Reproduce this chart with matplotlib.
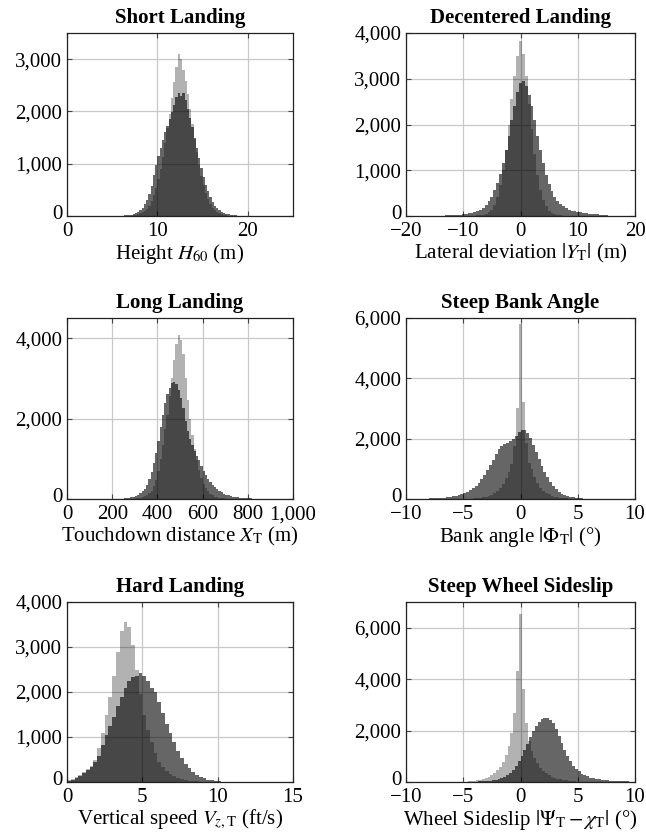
import numpy as np
import matplotlib
matplotlib.use('Agg')
import matplotlib.pyplot as plt
from matplotlib.ticker import FuncFormatter
from matplotlib.transforms import ScaledTranslation

plt.rcParams['font.family'] = ['Liberation Serif', 'DejaVu Serif']
plt.rcParams['mathtext.fontset'] = 'stix'
plt.rcParams['font.size'] = 15

## data (bin counts), light = first set, dark = second set

# Short Landing (m)
h60_light_edges = (7.0, 19.0)
h60_light = [8, 13, 20, 32, 48, 70, 100, 140, 200, 290, 400, 540,
             700, 900, 1130, 1400, 1680, 1950, 2250, 2560, 2850, 3100, 3000, 2800,
             2580, 2330, 2050, 1760, 1480, 1220, 980, 770, 590, 440, 320, 230,
             160, 110, 75, 50, 33, 22, 14, 9, 6, 4, 2, 1]
h60_dark_edges = (6.0, 20.0)
h60_dark = [8, 11, 15, 20, 28, 40, 56, 78, 110, 160, 220, 310, 420, 580, 780, 980,
            1150, 1300, 1450, 1600, 1730, 1860, 1990, 2130, 2280, 2360, 2290, 2350,
            2220, 2050, 1880, 1700, 1500, 1300, 1100, 920, 750, 600, 470, 360,
            270, 200, 150, 110, 80, 58, 42, 30, 22, 16, 12, 9, 6, 5, 3, 2]

# Decentered Landing (m)
yt_edges = (-15.25, 15.25)
yt_light = [0, 0, 0, 0, 0, 0, 0, 0, 0, 1, 1, 2, 3,
            5, 8, 13, 20, 32, 50, 85, 140, 250, 420, 680, 1000, 1450, 2000, 2550,
            3050, 3500, 3820, 3550, 3050, 2450, 1900, 1350, 900, 560, 350, 210, 120,
            70, 40, 22, 12, 7, 4, 2, 1,
            1, 0, 0, 0, 0, 0, 0, 0, 0, 0, 0, 0]
yt_dark = [5, 6, 8, 10, 12, 15, 18, 21, 25, 30, 35, 44, 55, 68, 85, 110, 140, 185,
           240, 320, 420, 560, 720, 920, 1150, 1450, 1750, 2100, 2400, 2700, 2900,
           2950, 2850, 2650, 2400, 2100, 1750, 1450, 1150, 900, 700, 540, 420, 330,
           260, 210, 170, 140, 120, 105, 90, 77, 65, 57, 50, 44, 38, 33, 28, 24, 20]

# Long Landing (m)
xt_edges = (250.0, 850.0)
xt_light = [2, 3, 4, 6, 9, 13, 20, 30, 45, 65, 95, 140, 210, 320, 480,
            700, 1000, 1350, 1750, 2100, 2550, 3000, 3450, 3850, 4080,
            3950, 3600, 3000, 2450, 2000, 1600, 1250, 980, 730, 530,
            380, 270, 190, 130, 90, 62, 42, 29, 20, 14,
            8, 5, 4, 3, 2, 1, 1, 0, 0, 0, 0, 0, 0, 0, 0]
xt_dark = [22, 28, 36, 48, 62, 80, 105, 140, 190, 260, 360, 500, 680, 900, 1150,
           1450, 1780, 2100, 2380, 2600, 2750, 2880, 2900, 2850, 2700, 2500, 2250,
           1950, 1700, 1500, 1350, 1200, 1080, 960, 830, 700, 590, 500, 420, 350,
           290, 240, 200, 165, 135, 110, 90, 75, 62, 50, 42, 35, 29, 24, 20, 16,
           13, 11, 9, 7]

# Steep Bank Angle (deg)
phi_light_edges = (-4.125, 4.125)
phi_light = [20, 28, 40, 56, 78, 105, 145, 200, 270, 360, 500, 680, 900, 1150, 1750,
             3000, 5800, 3200, 1850, 1200, 1000, 720, 520, 380, 280, 205, 150, 108,
             78, 56, 40, 28, 20]
phi_dark_edges = (-8.0, 6.0)
phi_dark = [18, 22, 27, 33, 40, 48, 58, 70, 85, 105, 130, 160, 195, 240, 295, 360,
            440, 540, 660, 800, 950, 1120, 1300, 1480, 1650, 1760, 1820, 1870,
            1930, 2000, 2100, 2220, 2300, 2280, 2200, 2020, 1800, 1560, 1320, 1100,
            900, 720, 560, 430, 320, 240, 175, 130, 95, 70, 52, 38, 28, 20, 15, 11]

# Hard Landing (ft/s)
vz_edges = (0.0, 11.0)
vz_light = [40, 70, 110, 160, 220, 290, 360, 480, 750, 1100, 1500, 1900, 2350, 2900,
            3350, 3550, 3450, 3050, 2500, 1950, 1500, 1150, 880, 650, 450, 330, 240,
            175, 125, 90, 65, 45, 32, 22, 15, 10, 7, 5, 3, 2, 1, 1, 0, 0]
vz_dark = [30, 55, 90, 135, 190, 260, 340, 440, 570, 820, 1050, 1250, 1450, 1680,
           1900, 2100, 2250, 2330, 2350, 2420, 2350, 2250, 2080, 2000, 1780, 1540,
           1300, 1080, 880, 700, 540, 410, 310, 230, 165, 115, 80, 55, 34, 22, 14,
           9, 5, 3]

# Steep Wheel Sideslip (deg)
ws_light_edges = (-5.125, 5.125)
ws_light = [10, 15, 22, 32, 45, 62, 85, 115, 150, 200, 260, 340, 450, 600, 780, 1050,
            1400, 1900, 2700, 4300, 6550, 3600, 2300, 1600, 1200, 950, 720, 560, 430,
            340, 270, 210, 165, 130, 100, 78, 60, 45, 34, 25, 18]
ws_dark_edges = (-5.0, 10.0)
ws_dark = [6, 8, 10, 12, 16, 21, 27, 35, 45, 58, 72, 92, 120, 160, 210, 270,
           350, 470, 620, 800, 1000, 1230, 1480, 1740, 1980, 2180, 2340, 2440,
           2500, 2480, 2420, 2300, 2050, 1780, 1500, 1230, 1000, 800, 640, 510,
           410, 330, 265, 215, 175, 145, 120, 100, 84, 72, 62, 53, 46, 40, 34, 29,
           25, 21, 18, 15]

panels = [
    dict(title='Short Landing', xlabel='Height $H_{60}$ (m)',
         sets=[(h60_light_edges, h60_light), (h60_dark_edges, h60_dark)],
         xlim=(0, 25), xticks=[0, 10, 20], ylim=(0, 3500), yticks=[0, 1000, 2000, 3000]),
    dict(title='Decentered Landing', xlabel=r'Lateral deviation $|Y_\mathrm{T}|$ (m)',
         sets=[(yt_edges, yt_light), (yt_edges, yt_dark)],
         xlim=(-20, 20), xticks=[-20, -10, 0, 10, 20], ylim=(0, 4000),
         yticks=[0, 1000, 2000, 3000, 4000]),
    dict(title='Long Landing', xlabel=r'Touchdown distance $X_\mathrm{T}$ (m)',
         sets=[(xt_edges, xt_light), (xt_edges, xt_dark)],
         xlim=(0, 1000), xticks=[0, 200, 400, 600, 800, 1000], ylim=(0, 4500),
         yticks=[0, 2000, 4000]),
    dict(title='Steep Bank Angle', xlabel='Bank angle $|\\Phi_\\mathrm{T}|$ (°)',
         sets=[(phi_light_edges, phi_light), (phi_dark_edges, phi_dark)],
         xlim=(-10, 10), xticks=[-10, -5, 0, 5, 10], ylim=(0, 6000),
         yticks=[0, 2000, 4000, 6000]),
    dict(title='Hard Landing', xlabel=r'Vertical speed $V_{z,\mathrm{T}}$ (ft/s)',
         sets=[(vz_edges, vz_light), (vz_edges, vz_dark)],
         xlim=(0, 15), xticks=[0, 5, 10, 15], ylim=(0, 4000),
         yticks=[0, 1000, 2000, 3000, 4000]),
    dict(title='Steep Wheel Sideslip',
         xlabel='Wheel Sideslip $|\\Psi_\\mathrm{T} - \\chi_\\mathrm{T}|$ (°)',
         sets=[(ws_light_edges, ws_light), (ws_dark_edges, ws_dark)],
         xlim=(-10, 10), xticks=[-10, -5, 0, 5, 10], ylim=(0, 7000),
         yticks=[0, 2000, 4000, 6000]),
]

W, H = 646, 836
# axes boxes in pixels: left, top, right, bottom
boxes = [(67, 33, 293, 216), (406, 33, 635, 216),
         (67, 318, 293, 499), (406, 318, 635, 499),
         (67, 602, 293, 782), (406, 602, 635, 782)]


def fmt(v, pos):
    return f'{int(round(v)):,}'.replace('-', '\u2212')


fig = plt.figure(figsize=(W / 100, H / 100), dpi=100)
for p, (l, t, r, b) in zip(panels, boxes):
    ax = fig.add_axes([l / W, (H - b) / H, (r - l) / W, (b - t) / H])
    for ((lo, hi), vals), a in zip(p['sets'], [0.3, 0.6]):
        edges = np.linspace(lo, hi, len(vals) + 1)
        ax.stairs(vals, edges, fill=True, color='black', alpha=a, linewidth=0)
    ax.set_xlim(*p['xlim'])
    ax.set_ylim(*p['ylim'])
    ax.set_xticks(p['xticks'])
    ax.set_yticks(p['yticks'])
    ax.xaxis.set_major_formatter(FuncFormatter(fmt))
    ax.yaxis.set_major_formatter(FuncFormatter(fmt))
    ax.grid(True, color='#c8c8c8', linewidth=0.9)
    ax.set_axisbelow(True)
    ax.tick_params(direction='in', top=True, right=True, length=3.5, width=0.8,
                   color='#444444', labelsize=15)
    ax.tick_params(axis='x', pad=4.5)
    ax.tick_params(axis='y', pad=3.5)
    for s in ax.spines.values():
        s.set_linewidth(0.9)
        s.set_color('#222222')
    ax.set_title(p['title'], fontweight='bold', fontsize=15, pad=7)
    ax.set_xlabel(p['xlabel'], fontsize=15, labelpad=0.5)
    # lift the y "0" a little so it clears the first x tick label
    lab0 = ax.get_yticklabels()[0]
    lab0.set_transform(lab0.get_transform()
                       + ScaledTranslation(0, 3 / 72, fig.dpi_scale_trans))

fig.savefig('out.png', dpi=100)
